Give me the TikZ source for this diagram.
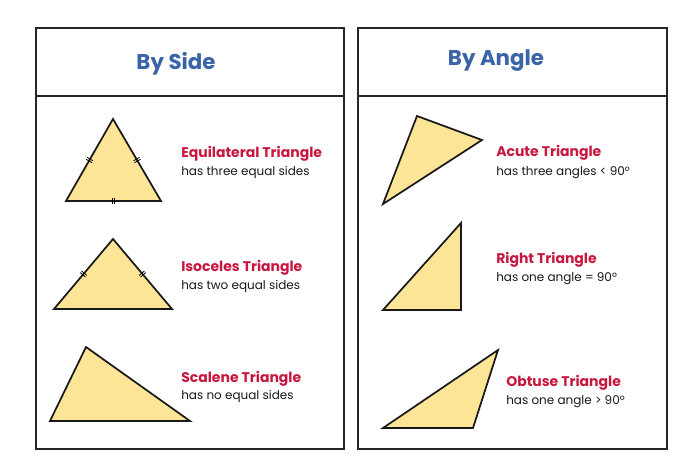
\documentclass[tikz,border=0pt]{standalone}
\usepackage{fontspec}
\setmainfont{Poppins}
\definecolor{tri}{HTML}{FCE597}
\definecolor{ttl}{HTML}{C8173F}
\definecolor{hdr}{HTML}{3A64A8}
\tikzset{
 panel/.style={draw=black!85,line width=1.2pt},
 trishape/.style={draw=black!90,fill=tri,line width=1.3pt,line join=miter},
 ttext/.style={anchor=base west,text=ttl,font=\fontsize{10.5}{12}\selectfont\bfseries,inner sep=0},
 dtext/.style={anchor=base west,text=black!90,font=\fontsize{9}{11}\selectfont,inner sep=0},
 htext/.style={text=hdr,font=\fontsize{16}{18}\selectfont\bfseries},
 tick/.style={midway,sloped,inner sep=0}
}
\newcommand{\tk}{\tikz\draw[line width=0.6pt] (0,-2.6pt)--(0,2.6pt) (1.6pt,-2.6pt)--(1.6pt,2.6pt);}
\begin{document}
\begin{tikzpicture}[x=0.75pt,y=-0.75pt]
\useasboundingbox (0,0) rectangle (700,475);
\fill[white] (0,0) rectangle (700,475);
% panels
\draw[panel] (36,28) rectangle (344,449);
\draw[panel] (36,96) -- (344,96);
\draw[panel] (358,28) rectangle (667,449);
\draw[panel] (358,96) -- (667,96);
\node[htext] (hs) at (176,64) {By Side};
\node[htext] (ha) at (496,61) {By Angle};
% by side
\draw[trishape] (66,201) coordinate (e1) -- (113,119) coordinate (e2) -- (161,201) coordinate (e3) -- cycle;
\path (e1) -- (e2) node[tick]{\tk};
\path (e2) -- (e3) node[tick]{\tk};
\path (e1) -- (e3) node[tick]{\tk};
\draw[trishape] (54,309) coordinate (i1) -- (113,239) coordinate (i2) -- (172,309) coordinate (i3) -- cycle;
\path (i1) -- (i2) node[tick]{\tk};
\path (i2) -- (i3) node[tick]{\tk};
\draw[trishape] (50,421) -- (86,347) -- (190,421) -- cycle;
\node[ttext] (t1) at (181,157) {Equilateral Triangle};
\node[dtext] (d1) at (181,175) {has three equal sides};
\node[ttext] (t2) at (181,271) {Isoceles Triangle};
\node[dtext] (d2) at (181,289) {has two equal sides};
\node[ttext] (t3) at (181,382) {Scalene Triangle};
\node[dtext] (d3) at (181,399) {has no equal sides};
% by angle
\draw[trishape] (383,204) -- (417,116) -- (482,140) -- cycle;
\draw[trishape] (383,310) -- (461,223) -- (461,310) -- cycle;
\draw[trishape] (383,428) -- (498,350) -- (473,428) -- cycle;
\node[ttext] (t4) at (496,156) {Acute Triangle};
\node[dtext] (d4) at (496,175) {has three angles < 90°};
\node[ttext] (t5) at (496,263) {Right Triangle};
\node[dtext] (d5) at (496,281) {has one angle = 90°};
\node[ttext] (t6) at (506,386) {Obtuse Triangle};
\node[dtext] (d6) at (506,404) {has one angle > 90°};
\end{tikzpicture}
\end{document}
